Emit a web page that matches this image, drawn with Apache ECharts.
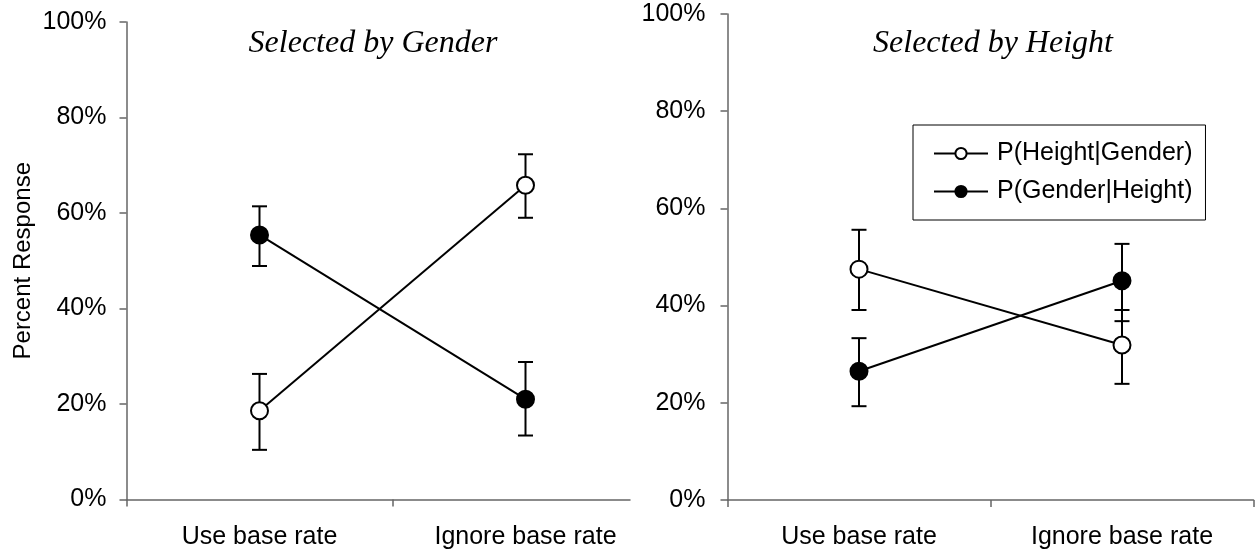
<!DOCTYPE html>
<html>
<head>
<meta charset="utf-8">
<script src="https://cdn.jsdelivr.net/npm/echarts@6/dist/echarts.min.js"></script>
<style>
html, body { margin: 0; padding: 0; background: #fff; }
#chart { width: 1255px; height: 556px; }
</style>
</head>
<body>
<div id="chart"></div>
<script>
// ---- data ----
const categories = ['Use base rate', 'Ignore base rate'];
const seriesNames = ['P(Height|Gender)', 'P(Gender|Height)'];
const panelTitles = ['Selected by Gender', 'Selected by Height'];
const yAxisName = 'Percent Response';
const yMin = 0, yMax = 100, yStep = 20;

// Left panel: Selected by Gender
const genderOpen = [18.6, 65.8];
const genderOpenLow = [10.4, 59.0];
const genderOpenHigh = [26.3, 72.3];
const genderFilled = [55.4, 21.0];
const genderFilledLow = [48.9, 13.4];
const genderFilledHigh = [61.4, 28.8];

// Right panel: Selected by Height
const heightOpen = [47.5, 31.9];
const heightOpenLow = [39.1, 23.9];
const heightOpenHigh = [55.6, 39.1];
const heightFilled = [26.5, 45.1];
const heightFilledLow = [19.3, 36.8];
const heightFilledHigh = [33.3, 52.7];

// ---- build ----
const xPos = categories.map((c, i) => i + 0.5);
const pts = vals => vals.map((v, i) => [xPos[i], v]);
const errs = (lo, hi) => lo.map((l, i) => [xPos[i], l, hi[i]]);

const FONT = 'Liberation Sans';
const AXIS_COLOR = '#666';

function renderErr(params, api) {
  const x = api.value(0), lo = api.value(1), hi = api.value(2);
  const a = api.coord([x, lo]), b = api.coord([x, hi]);
  const w = 7.5;
  const st = { stroke: '#000', lineWidth: 2 };
  return {
    type: 'group',
    children: [
      { type: 'line', shape: { x1: a[0], y1: a[1], x2: b[0], y2: b[1] }, style: st },
      { type: 'line', shape: { x1: a[0] - w, y1: a[1], x2: a[0] + w, y2: a[1] }, style: st },
      { type: 'line', shape: { x1: b[0] - w, y1: b[1], x2: b[0] + w, y2: b[1] }, style: st }
    ]
  };
}

function xAxisCfg(gridIndex, max, tickVals) {
  return {
    type: 'value', gridIndex, min: 0, max,
    splitLine: { show: false },
    axisLine: { show: true, lineStyle: { color: AXIS_COLOR, width: 1.5 } },
    axisTick: { show: true, length: 7, inside: false, customValues: tickVals,
      lineStyle: { color: AXIS_COLOR, width: 1.5 } },
    axisLabel: {
      customValues: xPos, margin: 25, fontSize: 25, color: '#000', fontFamily: FONT,
      formatter: v => categories[Math.floor(v)]
    }
  };
}

function yAxisCfg(gridIndex, margin, withName) {
  const c = {
    type: 'value', gridIndex, min: yMin, max: yMax, interval: yStep,
    splitLine: { show: false },
    axisLine: { show: true, lineStyle: { color: AXIS_COLOR, width: 1.5 } },
    axisTick: { show: true, length: 7, inside: false, lineStyle: { color: AXIS_COLOR, width: 1.5 } },
    axisLabel: { formatter: '{value}%', margin, fontSize: 25, color: '#000', fontFamily: FONT }
  };
  if (withName) {
    c.name = yAxisName;
    c.nameLocation = 'middle';
    c.nameGap = 91;
    c.nameTextStyle = { fontSize: 24, color: '#000', fontFamily: FONT };
  }
  return c;
}

const openStyle = { color: '#fff', borderColor: '#000', borderWidth: 2 };
const filledStyle = { color: '#000', borderColor: '#000', borderWidth: 2 };
const lineSt = { color: '#000', width: 2 };

function lineSeries(name, data, xi, style) {
  return {
    type: 'line', name, data: pts(data), xAxisIndex: xi, yAxisIndex: xi,
    symbol: 'circle', symbolSize: 17, showSymbol: true,
    itemStyle: style, lineStyle: lineSt, z: 3, silent: true
  };
}
function errSeries(name, lo, hi, xi) {
  return {
    type: 'custom', name, data: errs(lo, hi), xAxisIndex: xi, yAxisIndex: xi,
    renderItem: renderErr, encode: { x: 0, y: [1, 2] }, z: 2, silent: true
  };
}

const titleStyle = { fontFamily: 'Liberation Serif', fontStyle: 'italic', fontWeight: 'normal',
  fontSize: 32, color: '#000' };

const option = {
  animation: false,
  backgroundColor: '#fff',
  title: [
    { text: panelTitles[0], left: 373, top: 28, textAlign: 'center', padding: 0, textStyle: titleStyle },
    { text: panelTitles[1], left: 993, top: 28, textAlign: 'center', padding: 0, textStyle: titleStyle }
  ],
  legend: {
    data: seriesNames,
    orient: 'vertical',
    left: 913, top: 125,
    padding: [16, 13, 16, 20],
    itemGap: 13,
    itemWidth: 54, itemHeight: 14,
    borderColor: '#000', borderWidth: 1,
    selectedMode: false,
    textStyle: { fontSize: 25, color: '#000', fontFamily: FONT, padding: [0, 0, 0, 4] }
  },
  grid: [
    { left: 126.5, top: 22, width: 503.5, height: 477.5, containLabel: false },
    { left: 727.5, top: 14, width: 526, height: 486, containLabel: false }
  ],
  xAxis: [
    xAxisCfg(0, 503.5 / 266, [0, 1]),
    xAxisCfg(1, 2, [0, 1, 2])
  ],
  yAxis: [
    yAxisCfg(0, 20, true),
    yAxisCfg(1, 22, false)
  ],
  series: [
    errSeries('err-g-open', genderOpenLow, genderOpenHigh, 0),
    errSeries('err-g-filled', genderFilledLow, genderFilledHigh, 0),
    errSeries('err-h-open', heightOpenLow, heightOpenHigh, 1),
    errSeries('err-h-filled', heightFilledLow, heightFilledHigh, 1),
    lineSeries(seriesNames[0], genderOpen, 0, openStyle),
    lineSeries(seriesNames[1], genderFilled, 0, filledStyle),
    lineSeries(seriesNames[0], heightOpen, 1, openStyle),
    lineSeries(seriesNames[1], heightFilled, 1, filledStyle)
  ]
};

const chart = echarts.init(document.getElementById('chart'), null, { renderer: 'canvas' });
chart.setOption(option);
</script>
</body>
</html>
